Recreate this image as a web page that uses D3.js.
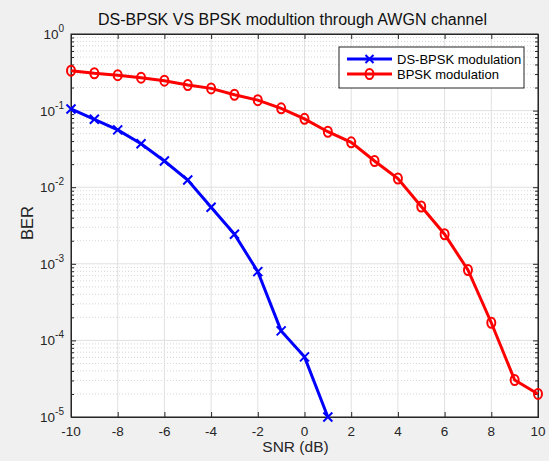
<!DOCTYPE html>
<html>
<head>
<meta charset="utf-8">
<script src="https://cdn.jsdelivr.net/npm/d3@7"></script>
<style>
  body { margin: 0; background: #f0f0f0; }
  svg { display: block; font-family: "Liberation Sans", Arial, sans-serif; }
</style>
</head>
<body>
<script>
  // values
  let snrDs = [-10, -9, -8, -7, -6, -5, -4, -3, -2, -1, 0, 1];
  let berDs = [0.105, 0.077, 0.056, 0.037, 0.022, 0.0124, 0.00546, 0.00243, 0.00079, 0.000133, 0.000061, 0.0000100];
  let snrBpsk = [-10, -9, -8, -7, -6, -5, -4, -3, -2, -1, 0, 1, 2, 3, 4, 5, 6, 7, 8, 9, 10];
  let berBpsk = [0.332, 0.307, 0.29, 0.269, 0.246, 0.216, 0.195, 0.161, 0.137, 0.107, 0.078, 0.053, 0.0385, 0.022, 0.013, 0.0056, 0.00243, 0.00083, 0.00017, 0.0000304, 0.0000200];
  let xTicks = [-10, -8, -6, -4, -2, 0, 2, 4, 6, 8, 10];
  let yExps = [0, -1, -2, -3, -4, -5];
  let seriesNames = ["DS-BPSK modulation", "BPSK modulation"];

  (function() {
  let W = 549, H = 461;
  let pL = 71, pR = 538, pT = 34, pB = 417;

  let svg = d3.select("body").append("svg")
    .attr("width", W)
    .attr("height", H);

  svg.append("rect")
    .attr("width", W).attr("height", H)
    .attr("fill", "#f0f0f0");

  let xScale = d3.scaleLinear().domain([-10, 10]).range([pL, pR]);
  let yScale = d3.scaleLog().domain([1e-5, 1]).range([pB, pT]);

  // plot area
  svg.append("rect")
    .attr("x", pL).attr("y", pT)
    .attr("width", pR - pL).attr("height", pB - pT)
    .attr("fill", "white");

  // minor grid (dotted)
  let minor = [];
  for (let e = -5; e < 0; e++) {
    for (let m = 2; m <= 9; m++) minor.push(m * Math.pow(10, e));
  }
  svg.append("g").selectAll("line")
    .data(minor)
    .enter().append("line")
      .attr("x1", pL).attr("x2", pR)
      .attr("y1", (d) => yScale(d)).attr("y2", (d) => yScale(d))
      .attr("stroke", "#d6d6d6")
      .attr("stroke-width", 1)
      .style("stroke-dasharray", "1,2");

  // major grid
  svg.append("g").selectAll("line")
    .data(yExps)
    .enter().append("line")
      .attr("x1", pL).attr("x2", pR)
      .attr("y1", (d) => yScale(Math.pow(10, d))).attr("y2", (d) => yScale(Math.pow(10, d)))
      .attr("stroke", "#e0e0e0");
  svg.append("g").selectAll("line")
    .data(xTicks)
    .enter().append("line")
      .attr("x1", (d) => xScale(d)).attr("x2", (d) => xScale(d))
      .attr("y1", pT).attr("y2", pB)
      .attr("stroke", "#e0e0e0");

  // axes with inward ticks
  let majorY = yExps.map((e) => Math.pow(10, e));
  let axes = [
    [d3.axisTop(xScale).tickValues(xTicks).tickSize(5), "translate(0," + pB + ")"],
    [d3.axisBottom(xScale).tickValues(xTicks).tickSize(5), "translate(0," + pT + ")"],
    [d3.axisRight(yScale).tickValues(majorY).tickSize(5), "translate(" + pL + ",0)"],
    [d3.axisLeft(yScale).tickValues(majorY).tickSize(5), "translate(" + pR + ",0)"],
    [d3.axisRight(yScale).tickValues(minor).tickSize(3), "translate(" + pL + ",0)"],
    [d3.axisLeft(yScale).tickValues(minor).tickSize(3), "translate(" + pR + ",0)"]
  ];
  axes.forEach((a) => {
    let g = svg.append("g").attr("transform", a[1]).call(a[0].tickFormat(""));
    g.selectAll("path").attr("stroke", "#262626");
    g.selectAll("line").attr("stroke", "#262626");
  });

  svg.append("rect")
    .attr("x", pL).attr("y", pT)
    .attr("width", pR - pL).attr("height", pB - pT)
    .attr("fill", "none")
    .attr("stroke", "#262626");

  // tick labels
  svg.append("g").selectAll("text")
    .data(xTicks)
    .enter().append("text")
      .attr("x", (d) => xScale(d))
      .attr("y", pB + 19)
      .attr("text-anchor", "middle")
      .attr("font-size", 13.5)
      .attr("fill", "#262626")
      .text((d) => d);

  let yl = svg.append("g").selectAll("text")
    .data(yExps)
    .enter().append("text")
      .attr("x", pL - 7)
      .attr("y", (d) => yScale(Math.pow(10, d)) + 5)
      .attr("text-anchor", "end")
      .attr("font-size", 13.5)
      .attr("fill", "#262626");
  yl.append("tspan").text("10");
  yl.append("tspan")
    .attr("dy", -7)
    .attr("font-size", 10)
    .text((d) => d);

  // labels
  svg.append("text")
    .attr("x", (pL + pR) / 2 - 12).attr("y", 25)
    .attr("text-anchor", "middle")
    .attr("font-size", 16)
    .attr("fill", "#111")
    .text("DS-BPSK VS BPSK modultion through AWGN channel");

  svg.append("text")
    .attr("x", (pL + pR) / 2 - 9).attr("y", 452)
    .attr("text-anchor", "middle")
    .attr("font-size", 15.5)
    .attr("fill", "#262626")
    .text("SNR (dB)");

  svg.append("text")
    .attr("transform", "translate(33,223)rotate(-90)")
    .attr("text-anchor", "middle")
    .attr("font-size", 16.5)
    .attr("fill", "#262626")
    .text("BER");

  // curves
  let lineGen = d3.line()
    .x((d) => xScale(d[0]))
    .y((d) => yScale(d[1]));

  let ds = snrDs.map((s, i) => [s, berDs[i]]);
  let bp = snrBpsk.map((s, i) => [s, berBpsk[i]]);

  svg.append("path")
    .datum(bp)
    .attr("d", lineGen)
    .attr("fill", "none")
    .attr("stroke", "#ff0000")
    .attr("stroke-width", 3);

  svg.append("g").selectAll("ellipse")
    .data(bp)
    .enter().append("ellipse")
      .attr("cx", (d) => xScale(d[0]))
      .attr("cy", (d) => yScale(d[1]))
      .attr("rx", 4).attr("ry", 5)
      .attr("fill", "none")
      .attr("stroke", "#ff0000")
      .attr("stroke-width", 2);

  svg.append("path")
    .datum(ds)
    .attr("d", lineGen)
    .attr("fill", "none")
    .attr("stroke", "#0000ff")
    .attr("stroke-width", 3);

  function cross(g, x, y, s) {
    g.append("path")
      .attr("d", "M" + (x - s) + "," + (y - s) + "L" + (x + s) + "," + (y + s) +
        "M" + (x - s) + "," + (y + s) + "L" + (x + s) + "," + (y - s))
      .attr("stroke", "#0000ff")
      .attr("stroke-width", 2);
  }
  let crosses = svg.append("g");
  ds.forEach((d) => cross(crosses, xScale(d[0]), yScale(d[1]), 4.5));

  // legend
  let lg = svg.append("g");
  lg.append("rect")
    .attr("x", 339).attr("y", 47)
    .attr("width", 185).attr("height", 41)
    .attr("fill", "white")
    .attr("stroke", "#262626");

  let colors = ["#0000ff", "#ff0000"];
  seriesNames.forEach((name, i) => {
    let yy = 59 + i * 15;
    lg.append("line")
      .attr("x1", 347).attr("x2", 392)
      .attr("y1", yy).attr("y2", yy)
      .attr("stroke", colors[i])
      .attr("stroke-width", 3);
    if (i == 0) {
      cross(lg, 369.5, yy, 4);
    } else {
      lg.append("ellipse")
        .attr("cx", 369.5).attr("cy", yy)
        .attr("rx", 4).attr("ry", 5)
        .attr("fill", "none")
        .attr("stroke", colors[i])
        .attr("stroke-width", 2);
    }
    lg.append("text")
      .attr("x", 397).attr("y", yy + 4.5)
      .attr("font-size", 13)
      .attr("fill", "#000")
      .text(name);
  });
  })();
</script>
</body>
</html>
